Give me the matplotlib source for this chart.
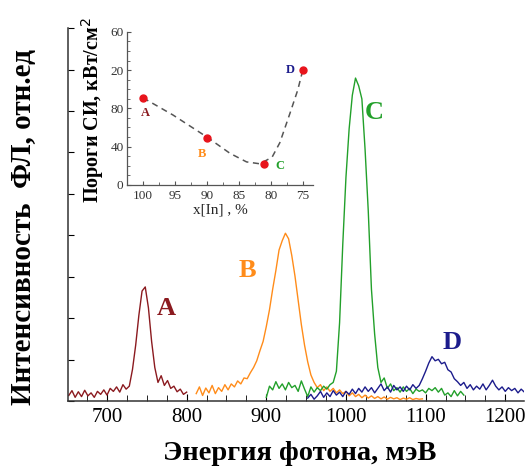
import matplotlib
matplotlib.use("Agg")
import matplotlib.pyplot as plt
from matplotlib.ticker import MultipleLocator
import numpy as np

plt.rcParams['font.family'] = ['Liberation Serif', 'DejaVu Serif']

# PL spectra (photon energy in meV, intensity in arb. units, axis top = 100)
energy_a = np.arange(652, 801, 4)
pl_a = [1.5, 2.8, 1.0, 2.5, 1.2, 2.9, 1.4, 2.2, 1.0, 2.6,
        1.8, 3.0, 1.6, 3.4, 2.6, 3.8, 2.4, 4.4, 3.2, 4.0,
        8.5, 15.0, 23.0, 29.5, 30.6, 25.0, 16.0, 9.0, 5.0, 6.8,
        4.2, 5.5, 3.4, 4.0, 2.5, 3.2, 1.8, 2.4]

energy_b = np.arange(812, 1097, 4)
pl_b = [2.0, 3.8, 1.5, 3.5, 2.2, 4.2, 2.0, 3.6, 2.6, 4.4,
        3.0, 4.6, 3.8, 5.4, 4.6, 6.2, 6.0, 7.6, 9.0, 10.8,
        13.5, 16.0, 20.0, 24.5, 30.0, 35.0, 40.5, 43.0, 45.0, 43.5,
        39.0, 33.5, 27.0, 20.5, 15.0, 10.5, 7.0, 5.0, 3.6, 4.4,
        2.8, 3.8, 2.6, 3.4, 2.2, 3.0, 2.0, 2.6, 1.4, 2.2,
        1.2, 1.8, 0.9, 1.6, 0.8, 1.4, 0.7, 1.2, 0.6, 1.1,
        0.5, 1.0, 0.6, 0.9, 0.4, 0.8, 0.5, 0.9, 0.4, 0.7,
        0.5, 0.6]

energy_c = np.arange(900, 1149, 4)
pl_c = [1.0, 4.0, 3.0, 5.2, 3.4, 4.6, 3.0, 5.0, 3.6, 4.2,
        2.6, 5.4, 3.2, 1.2, 3.8, 2.4, 3.6, 2.8, 4.0, 3.2,
        4.4, 5.0, 8.0, 21.0, 42.0, 60.0, 73.0, 82.0, 86.6, 84.5,
        81.0, 67.5, 51.0, 30.0, 18.0, 9.0, 5.0, 6.2, 3.4, 4.6,
        2.8, 3.6, 2.4, 3.8, 2.6, 3.4, 2.0, 3.2, 2.6, 3.0,
        2.2, 3.4, 2.8, 3.6, 2.4, 3.4, 1.6, 2.2, 1.2, 2.8,
        1.4, 2.6, 1.6]

energy_d = np.arange(952, 1225, 4)
pl_d = [0.8, 1.8, 0.5, 1.4, 2.6, 1.0, 2.2, 1.2, 2.8, 1.6,
        2.4, 1.2, 2.6, 1.8, 3.2, 2.0, 3.4, 2.4, 3.8, 2.6,
        3.6, 2.2, 3.4, 4.6, 2.8, 3.8, 2.4, 4.2, 3.0, 3.8,
        2.6, 4.0, 3.0, 4.4, 3.4, 4.2, 6.0, 8.0, 10.2, 11.9,
        10.8, 11.2, 10.0, 10.4, 8.4, 7.8, 6.0, 5.2, 4.2, 5.0,
        3.4, 4.4, 3.0, 4.0, 3.2, 4.6, 3.0, 4.2, 5.6, 4.0,
        3.0, 3.8, 2.6, 3.6, 2.8, 3.4, 2.2, 3.2, 2.4]

# lasing thresholds vs In content
x_in = [100, 90, 81, 75]
threshold = [91, 49, 22, 120]
sample_names = ['A', 'B', 'C', 'D']
# hand-drawn guide line through the thresholds
guide_x = [100, 95.3, 90, 86.4, 83.8, 81.7, 79.8, 78.6, 77, 75.8, 75]
guide_y = [91, 73, 50, 33, 24, 22, 29, 44, 75, 99, 120]
inset_ytick_labels = ['0', '40', '80', '20', '60']

colors = ['#8b1a1f', '#ff8c1a', '#22a02a', '#1c1c8c']

fig = plt.figure(figsize=(5.27, 4.68), dpi=100)
ax = fig.add_axes([0.129, 0.143, 0.866, 0.797])

for e, v, c in zip([energy_a, energy_b, energy_c, energy_d],
                   [pl_a, pl_b, pl_c, pl_d], colors):
    ax.plot(e, v, color=c, lw=1.0)

ax.set_xlim(651, 1224)
ax.set_ylim(0, 100)
ax.xaxis.set_major_locator(MultipleLocator(100))
ax.xaxis.set_minor_locator(MultipleLocator(25))
ax.yaxis.set_major_locator(MultipleLocator(100 / 9))
ax.set_yticklabels([])
ax.tick_params(axis='x', which='major', direction='in', length=5, labelsize=15, pad=5)
ax.tick_params(axis='x', which='minor', direction='in', length=4)
ax.tick_params(axis='y', direction='in', length=4)
ax.spines['top'].set_visible(False)
ax.spines['right'].set_visible(False)
for s in ['left', 'bottom']:
    ax.spines[s].set_color('#333333')
    ax.spines[s].set_linewidth(1.1)

# peak labels
label_pos = [(774, 24.7), (876, 35), (1035, 77.5), (1133, 15.8)]
for name, (px, py), c in zip(sample_names, label_pos, colors):
    ax.text(px, py, name, color=c, fontsize=19, fontweight='bold',
            ha='center', va='center')

fig.text(300 / 527, 1 - 453 / 468, 'Энергия фотона, мэВ', fontsize=20.5,
         fontweight='bold', ha='center', va='center')
fig.text(24 / 527, 1 - 227 / 468, 'Интенсивность  ФЛ, отн.ед', fontsize=21,
         fontweight='bold', ha='center', va='center', rotation=90)

# inset: thresholds
ins = fig.add_axes([0.241, 0.605, 0.353, 0.327])
ins.plot(guide_x, guide_y, ls=(0, (4, 3)), color='#555555', lw=1.1)
ins.plot(x_in, threshold, 'o', color='#e8141c', ms=5, zorder=3)
ins.set_xlim(102.5, 73.4)
ins.set_ylim(0, 160)
ins.set_xticks([100, 95, 90, 85, 80, 75])
ins.set_yticks([0, 40, 80, 120, 160])
ins.set_yticklabels(inset_ytick_labels)
ins.xaxis.set_minor_locator(MultipleLocator(2.5))
ins.yaxis.set_minor_locator(MultipleLocator(10))
ins.tick_params(which='both', direction='in', labelsize=9.5, labelcolor='#333333',
                color='#555555')
ins.tick_params(axis='y', pad=2.5)
ins.tick_params(which='major', length=3)
ins.tick_params(which='minor', length=2)
ins.spines['top'].set_visible(False)
ins.spines['right'].set_visible(False)
for s in ['left', 'bottom']:
    ins.spines[s].set_color('#555555')
    ins.spines[s].set_linewidth(0.9)
ins.set_xlabel('x[In] , %', fontsize=11, labelpad=1, color='#222222')
ins.patch.set_alpha(0)

inset_label_pos = [(99.7, 75), (90.8, 32), (78.6, 20), (76.9, 120)]
for name, (px, py), c in zip(sample_names, inset_label_pos, colors):
    ins.text(px, py, name, color=c, fontsize=9, fontweight='bold',
             ha='center', va='center')

fig.text(93 / 527, 1 - 110 / 468, 'Пороги СИ, кВт/см$^2$', fontsize=14.5,
         fontweight='bold', ha='center', va='center', rotation=90)

fig.savefig('out.png', dpi=100)
